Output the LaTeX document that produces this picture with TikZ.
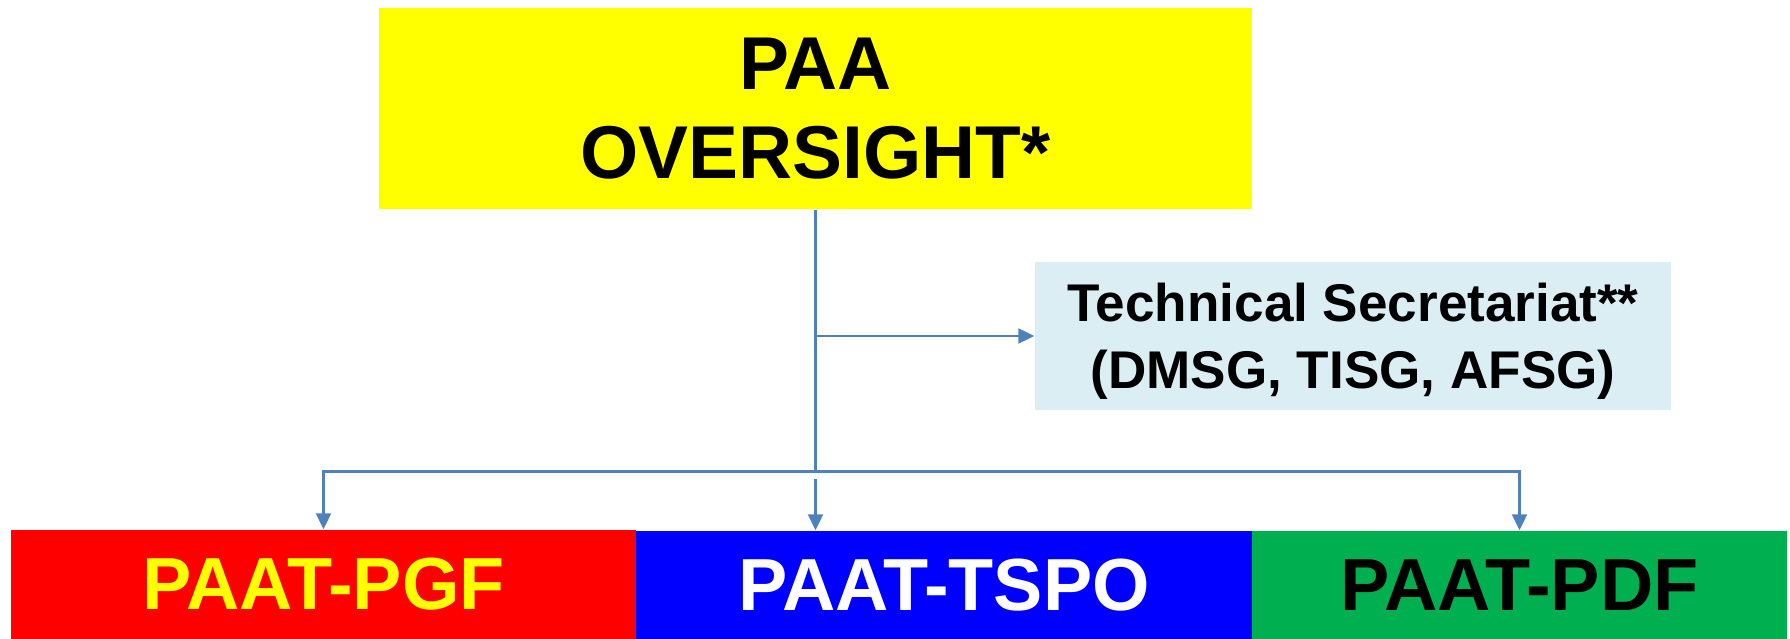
\documentclass[tikz,border=0pt]{standalone}
\usepackage{fontspec}
\setmainfont{Liberation Sans}
\usetikzlibrary{arrows.meta}

\definecolor{lineblue}{HTML}{4F81BD}
\definecolor{paleblue}{HTML}{DAEEF3}
\definecolor{paayellow}{HTML}{FFFF00}
\definecolor{pgfred}{HTML}{FF0000}
\definecolor{tspoblue}{HTML}{0000FF}
\definecolor{pdfgreen}{HTML}{00B050}

\begin{document}
\begin{tikzpicture}[
    box/.style={rectangle, inner sep=0pt, align=center, font=\bfseries},
    unit/.style={box, minimum height=1.08cm, font=\bfseries\fontsize{21}{25}\selectfont},
    link/.style={draw=lineblue, line width=0.6pt},
    arrow/.style={link, -{Triangle[length=0.16cm, width=0.15cm]}}
    ]
    \useasboundingbox (0,0) rectangle (17.9,-6.39);

    \node[box, fill=paayellow, minimum width=8.73cm, minimum height=2.01cm,
        font=\bfseries\fontsize{21.3}{25.3}\selectfont] (oversight) at (8.155,-1.085) {PAA\\OVERSIGHT*};

    \node[box, fill=paleblue, minimum width=6.36cm, minimum height=1.48cm, text depth=0pt,
        font=\bfseries\fontsize{15.1}{19}\selectfont] (secretariat) at (13.53,-3.36) {Technical Secretariat**\\(DMSG, TISG, AFSG)};

    \node[unit, fill=pgfred, text=paayellow, minimum width=6.25cm, minimum height=1.09cm] (pgf) at (3.235,-5.845) {PAAT-PGF};
    \node[unit, fill=tspoblue, text=white, minimum width=6.16cm] (tspo) at (9.44,-5.85) {PAAT-TSPO};
    \node[unit, fill=pdfgreen, text=black, minimum width=5.35cm] (pdf) at (15.195,-5.85) {PAAT-PDF};

    \coordinate (split) at (8.155,-4.715);
    \coordinate (gap) at (8.155,-4.795);

    \draw[link] (oversight.south) -- (split);
    \draw[arrow] (oversight.south |- secretariat.west) -- (secretariat.west);
    \draw[arrow] (split) -| (pgf.north);
    \draw[arrow] (split) -| (pdf.north);
    \draw[arrow] (gap) -- (gap |- tspo.north);
\end{tikzpicture}
\end{document}
